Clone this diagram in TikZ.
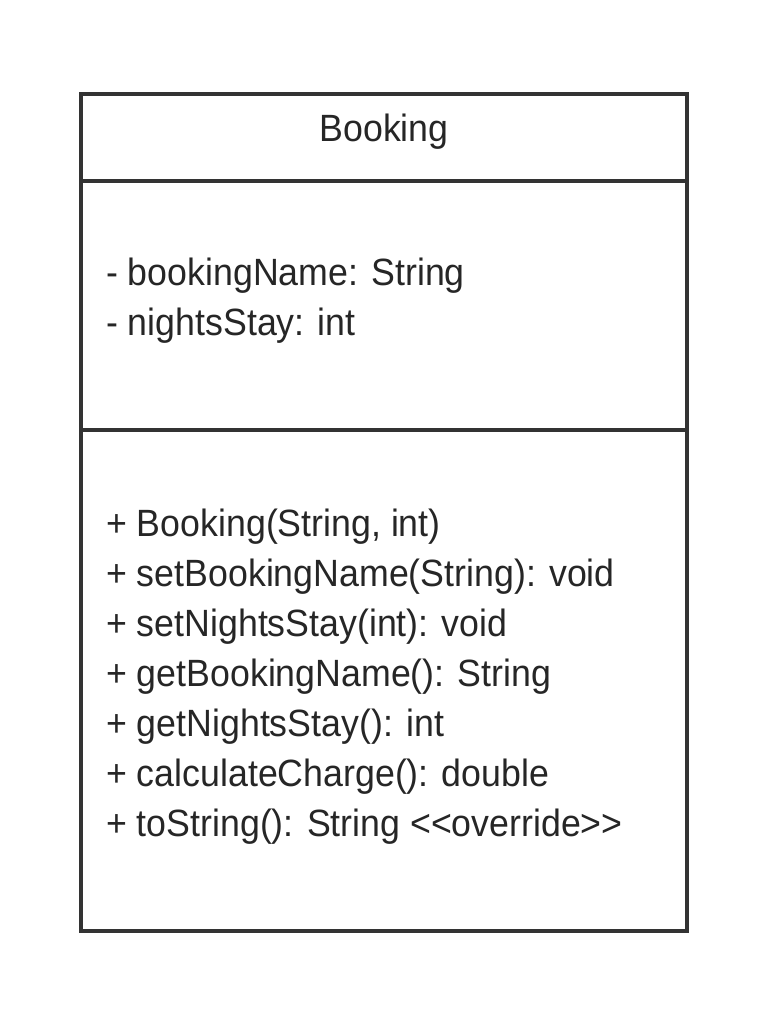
\documentclass[tikz,border=0pt]{standalone}
\usepackage{fontspec}
\setmainfont{Liberation Sans}
\tikzset{
  umlline/.style={line width=4pt, draw=black!80},
  umltext/.style={anchor=west, inner sep=0pt, text=black!85, font=\fontsize{38}{50}\selectfont, align=left, xscale=0.94}
}
\begin{document}
\begin{tikzpicture}[x=1pt,y=-1pt]
  \useasboundingbox (0,0) rectangle (768,1024);

  \draw[umlline] (81,94) rectangle (687,931);
  \draw[umlline] (81,181) -- (687,181);
  \draw[umlline] (81,430) -- (687,430);

  \node[umltext, anchor=center] (title) at (384,132) {Booking};
  \node[umltext] (attrs) at (106,301) {- bookingName: String\\- nightsStay: int};
  \node[umltext] (ops) at (106,677) {+ Booking(String, int)\\
    + setBookingName(String): void\\
    + setNightsStay(int): void\\
    + getBookingName(): String\\
    + getNightsStay(): int\\
    + calculateCharge(): double\\
    + toString(): String <{}<override>{}>};
\end{tikzpicture}
\end{document}
